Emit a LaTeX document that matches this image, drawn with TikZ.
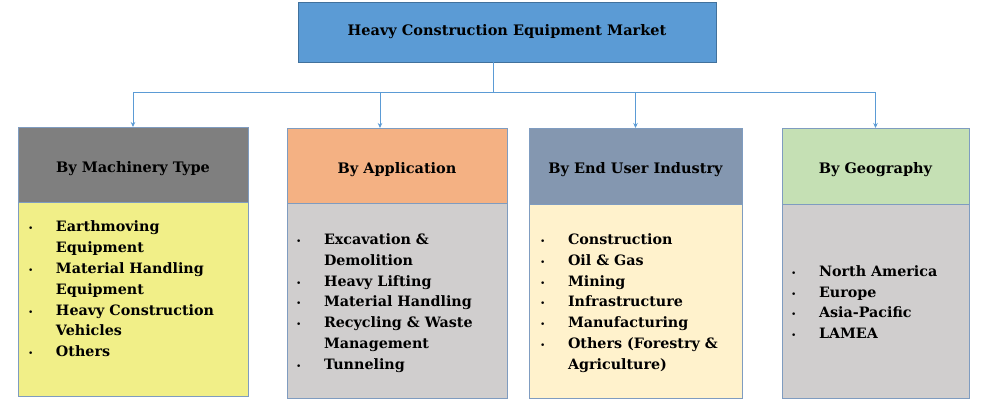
\documentclass[tikz,border=0pt]{standalone}
\usepackage{fontspec}
\setmainfont{DejaVu Serif}
\usepackage{xcolor}
\usetikzlibrary{positioning,calc}
\usetikzlibrary{arrows.meta}

\definecolor{topblue}{HTML}{5B9BD5}
\definecolor{topline}{HTML}{41719C}
\definecolor{linkblue}{HTML}{5B9BD5}
\definecolor{boxline}{HTML}{7F9CC0}
\definecolor{machhead}{HTML}{7F7F7F}
\definecolor{machbody}{HTML}{F1EF88}
\definecolor{apphead}{HTML}{F4B183}
\definecolor{appbody}{HTML}{D0CECE}
\definecolor{userhead}{HTML}{8497B0}
\definecolor{userbody}{HTML}{FFF2CC}
\definecolor{geohead}{HTML}{C5E0B4}
\definecolor{geobody}{HTML}{D0CECE}

\newcommand{\bul}{\makebox[28pt][l]{{\fontsize{9}{9}\selectfont\mdseries •}}}
\newcommand{\ind}{\hspace*{28pt}}

\begin{document}
\begin{tikzpicture}[x=1pt,y=-1pt,
		every node/.style={inner sep=0pt,outer sep=0pt},
		headbox/.style={draw=boxline,line width=0.8pt,anchor=north west,text height=19pt,text depth=3pt,font=\fontsize{14.5}{17}\selectfont\bfseries},
		bodybox/.style={draw=boxline,line width=0.8pt,below=0pt of #1},
		itemlist/.style={anchor=west,align=left,font=\fontsize{14.3}{20.8}\selectfont\bfseries},
		link/.style={draw=linkblue,line width=0.8pt}]
	\useasboundingbox (0,0) rectangle (989,403);
	% root
	\node[draw=topline,fill=topblue,line width=0.8pt,minimum width=418pt,minimum height=60pt,anchor=north west,font=\fontsize{14.5}{17}\selectfont\bfseries] (market) at (298,2) {Heavy Construction Equipment Market};
	% headers
	\node[headbox,fill=machhead,minimum width=230pt,minimum height=75pt] (hd1) at (18,127) {By Machinery Type};
	\node[headbox,fill=apphead,minimum width=220pt,minimum height=75pt] (hd2) at (287,128) {By Application};
	\node[headbox,fill=userhead,minimum width=213pt,minimum height=76pt] (hd3) at (529,128) {By End User Industry};
	\node[headbox,fill=geohead,minimum width=187pt,minimum height=76pt] (hd4) at (782,128) {By Geography};
	% bodies
	\node[bodybox=hd1,fill=machbody,minimum width=230pt,minimum height=194pt] (bd1) {};
	\node[bodybox=hd2,fill=appbody,minimum width=220pt,minimum height=195pt] (bd2) {};
	\node[bodybox=hd3,fill=userbody,minimum width=213pt,minimum height=194pt] (bd3) {};
	\node[bodybox=hd4,fill=geobody,minimum width=187pt,minimum height=194pt] (bd4) {};
	% lists
	\node[itemlist] (ls1) at (28,289) {\bul Earthmoving\\ \ind Equipment\\ \bul Material Handling\\ \ind Equipment\\ \bul Heavy Construction\\ \ind Vehicles\\ \bul Others};
	\node[itemlist] (ls2) at (296,303) {\bul Excavation \&\\ \ind Demolition\\ \bul Heavy Lifting\\ \bul Material Handling\\ \bul Recycling \& Waste\\ \ind Management\\ \bul Tunneling};
	\node[itemlist] (ls3) at (540,303) {\bul Construction\\ \bul Oil \& Gas\\ \bul Mining\\ \bul Infrastructure\\ \bul Manufacturing\\ \bul Others (Forestry \&\\ \ind Agriculture)};
	\node[itemlist] (ls4) at (791,302) {\bul North America\\ \bul Europe\\ \bul Asia-Pacific\\ \bul LAMEA};
	% connectors
	\coordinate (hub) at (493,92);
	\draw[link] (hub |- market.south) -- (hub);
	\foreach \i/\dx in {1/0,2/-17,3/0,4/0}{
			\draw[link,-{Stealth[length=5pt,width=4.5pt]}] (hub) -| ([xshift=\dx pt]hd\i.north);
		}
\end{tikzpicture}
\end{document}
